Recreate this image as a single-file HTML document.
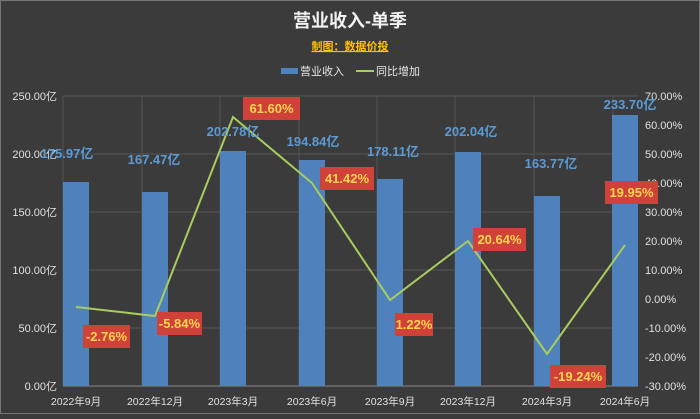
<!DOCTYPE html>
<html><head><meta charset="utf-8"><style>
html,body{margin:0;padding:0;}
body{width:700px;height:414px;background:#3b3b3b;overflow:hidden;font-family:"Liberation Sans","Noto Sans CJK SC",sans-serif;}
</style></head><body>
<svg width="700" height="414" xmlns="http://www.w3.org/2000/svg" font-family="Liberation Sans, Noto Sans CJK SC, sans-serif">
<rect x="0.5" y="0.5" width="699" height="413" fill="#3b3b3b" stroke="#777"/>
<text x="350" y="27" fill="#f2f2f2" font-size="18" font-weight="bold" text-anchor="middle">营业收入-单季</text>
<text x="350" y="50" fill="#ffc000" font-size="11" font-weight="bold" text-anchor="middle" text-decoration="underline">制图：数据价投</text>
<rect x="281" y="68" width="17" height="6" fill="#4f81bd"/>
<text x="300" y="75" fill="#e6e6e6" font-size="11">营业收入</text>
<line x1="356" y1="71" x2="374" y2="71" stroke="#a9cc5e" stroke-width="2"/>
<text x="376" y="75" fill="#e6e6e6" font-size="11">同比增加</text>
<g stroke="#555" stroke-width="1">
<line x1="63" y1="96" x2="638" y2="96"/><line x1="63" y1="154" x2="638" y2="154"/><line x1="63" y1="212" x2="638" y2="212"/><line x1="63" y1="270" x2="638" y2="270"/><line x1="63" y1="328" x2="638" y2="328"/>
<line x1="63" y1="96" x2="63" y2="386"/><line x1="142" y1="96" x2="142" y2="386"/><line x1="220" y1="96" x2="220" y2="386"/><line x1="299" y1="96" x2="299" y2="386"/><line x1="377" y1="96" x2="377" y2="386"/><line x1="455" y1="96" x2="455" y2="386"/><line x1="534" y1="96" x2="534" y2="386"/><line x1="613" y1="96" x2="613" y2="386"/>
</g>
<line x1="63" y1="386" x2="638" y2="386" stroke="#888"/>
<g fill="#4f81bd">
<rect x="63" y="182" width="26" height="204"/><rect x="142" y="192" width="26" height="194"/><rect x="220" y="151" width="26" height="235"/><rect x="299" y="160" width="26" height="226"/><rect x="377" y="179" width="26" height="207"/><rect x="455" y="152" width="26" height="234"/><rect x="534" y="196" width="26" height="190"/><rect x="612" y="115" width="26" height="271"/>
</g>
<g fill="#e0e0e0" font-size="11" text-anchor="end">
<text x="57" y="100">250.00亿</text><text x="57" y="158">200.00亿</text><text x="57" y="216">150.00亿</text><text x="57" y="274">100.00亿</text><text x="57" y="332">50.00亿</text><text x="57" y="390">0.00亿</text>
</g>
<g fill="#e0e0e0" font-size="11">
<text x="645" y="100">70.00%</text><text x="645" y="129">60.00%</text><text x="645" y="158">50.00%</text><text x="645" y="187">40.00%</text><text x="645" y="216">30.00%</text><text x="645" y="245">20.00%</text><text x="645" y="274">10.00%</text><text x="645" y="303">0.00%</text><text x="645" y="332">-10.00%</text><text x="645" y="361">-20.00%</text><text x="645" y="390">-30.00%</text>
</g>
<g fill="#e0e0e0" font-size="10.5" text-anchor="middle">
<text x="76" y="405">2022年9月</text><text x="155" y="405">2022年12月</text><text x="233" y="405">2023年3月</text><text x="312" y="405">2023年6月</text><text x="390" y="405">2023年9月</text><text x="468" y="405">2023年12月</text><text x="547" y="405">2024年3月</text><text x="625" y="405">2024年6月</text>
</g>
<polyline fill="none" stroke="#a9cc5e" stroke-width="2" points="76,307 155,316 233,117 312,183 390,300 468,241 547,354 625,245"/>
<g fill="#5b9bd5" font-size="13" font-weight="bold" text-anchor="middle">
<text x="67" y="158">175.97亿</text><text x="154" y="164">167.47亿</text><text x="233" y="136">202.78亿</text><text x="313" y="146">194.84亿</text><text x="393" y="156">178.11亿</text><text x="471" y="136">202.04亿</text><text x="551" y="168">163.77亿</text><text x="630" y="109">233.70亿</text>
</g>
<g fill="#d0413a">
<rect x="83" y="325" width="47" height="23"/><rect x="157" y="312" width="45" height="23"/><rect x="243" y="97" width="57" height="23"/><rect x="320" y="167" width="54" height="23"/><rect x="395" y="313" width="38" height="23"/><rect x="473" y="228" width="53" height="23"/><rect x="550" y="365" width="56" height="23"/><rect x="605" y="181" width="53" height="23"/>
</g>
<g fill="#ffd54f" font-size="13" font-weight="bold" text-anchor="middle">
<text x="106.5" y="341">-2.76%</text><text x="179.5" y="328">-5.84%</text><text x="271.5" y="113">61.60%</text><text x="347" y="183">41.42%</text><text x="414" y="329">1.22%</text><text x="499.5" y="244">20.64%</text><text x="578" y="381">-19.24%</text><text x="631.5" y="197">19.95%</text>
</g>
</svg>
</body></html>
